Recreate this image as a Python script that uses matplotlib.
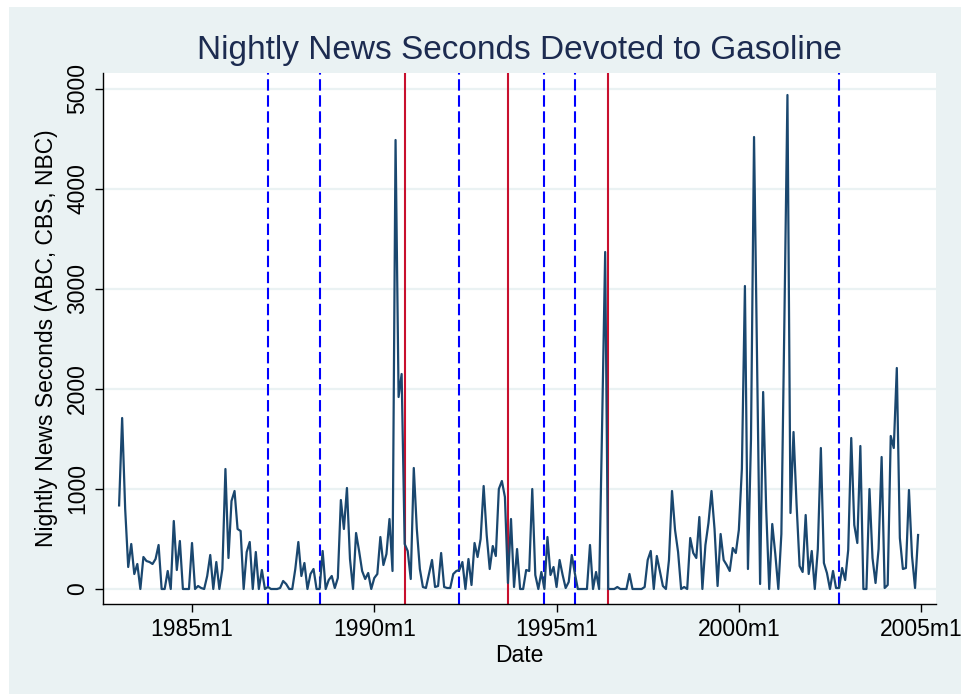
import matplotlib
matplotlib.use("Agg")
import matplotlib.pyplot as plt
from matplotlib.patches import Rectangle
import pandas as pd

plt.rcParams['font.family'] = ['Liberation Sans', 'DejaVu Sans']

# monthly seconds of nightly news coverage, 1983m1 .. 2004m12
seconds = [
    836, 1710, 800, 220, 450, 150, 250, 0, 320, 280, 270, 250,      # 1983
    300, 440, 0, 0, 180, 0, 680, 190, 480, 0, 0, 0,                 # 1984
    460, 0, 30, 10, 0, 130, 340, 0, 270, 0, 200, 1200,              # 1985
    310, 880, 980, 600, 580, 0, 370, 470, 0, 370, 0, 190,           # 1986
    0, 20, 0, 0, 0, 10, 80, 50, 0, 0, 200, 470,                     # 1987
    130, 260, 0, 150, 200, 0, 0, 380, 0, 90, 130, 10,               # 1988
    110, 890, 600, 1010, 300, 0, 560, 380, 180, 100, 160, 0,        # 1989
    110, 150, 520, 240, 350, 700, 180, 4490, 1920, 2150, 450, 380,  # 1990
    100, 1210, 600, 200, 20, 10, 150, 290, 20, 30, 360, 20,         # 1991
    10, 10, 150, 180, 190, 270, 0, 300, 40, 460, 320, 500,          # 1992
    1030, 540, 200, 430, 330, 1000, 1080, 920, 60, 700, 20, 400,    # 1993
    0, 0, 190, 180, 1000, 140, 0, 170, 0, 520, 140, 220,            # 1994
    20, 290, 140, 10, 70, 340, 160, 0, 0, 0, 0, 440,                # 1995
    0, 170, 0, 1650, 3370, 0, 0, 0, 20, 0, 0, 0,                    # 1996
    150, 0, 0, 0, 0, 20, 290, 380, 0, 330, 180, 30,                 # 1997
    0, 290, 980, 590, 370, 0, 20, 0, 510, 360, 310, 720,            # 1998
    0, 440, 660, 980, 600, 30, 550, 290, 240, 180, 410, 360,        # 1999
    590, 1200, 3030, 200, 1500, 4520, 2300, 50, 1970, 800, 0, 650,  # 2000
    350, 0, 550, 2700, 4940, 760, 1570, 850, 230, 170, 740, 150,    # 2001
    380, 0, 400, 1410, 260, 160, 0, 180, 10, 10, 210, 90,           # 2002
    390, 1510, 640, 460, 1430, 0, 0, 1000, 310, 60, 400, 1320,      # 2003
    10, 40, 1530, 1410, 2210, 510, 200, 210, 990, 330, 10, 540,     # 2004
]
dates = pd.period_range('1983-01', '2004-12', freq='M')

tick_labels = ['1985m1', '1990m1', '1995m1', '2000m1', '2005m1']
dashed_events = ['1987m2', '1988m7', '1992m5', '1994m9', '1995m7', '2002m10']
solid_events = ['1990m11', '1993m9', '1996m6']
y_ticks = [0, 1000, 2000, 3000, 4000, 5000]


def stata_month(s):
    # Stata %tm: months since 1960m1
    y, m = s.split('m')
    return (int(y) - 1960) * 12 + int(m) - 1


x = (dates.year - 1960) * 12 + dates.month - 1

fig = plt.figure(figsize=(9.62, 6.94), dpi=100, facecolor='white')
fig.patches.append(Rectangle((9 / 962, 0), 1, 687 / 694, transform=fig.transFigure,
                             facecolor='#eaf2f3', edgecolor='none', zorder=-10))
ax = fig.add_axes([103 / 962, 90 / 694, 833 / 962, 531 / 694])
ax.set_facecolor('white')

for s in dashed_events:
    ax.axvline(stata_month(s), color='#0000ff', lw=1.5, dashes=(5.5, 2.2), zorder=1.5)
for s in solid_events:
    ax.axvline(stata_month(s), color='#c8102e', lw=1.5, zorder=1.5)

ax.plot(x, seconds, color='#1a476f', lw=1.6, zorder=3)

ax.set_xlim(270.7, 544.9)
ax.set_ylim(-150, 5160)
ax.set_xticks([stata_month(t) for t in tick_labels])
ax.set_xticklabels(tick_labels)
ax.set_yticks(y_ticks)
ax.set_yticklabels([str(v) for v in y_ticks], rotation=90, va='center')
ax.grid(axis='y', color='#eaf2f3', lw=1.6, zorder=0)
ax.set_axisbelow(True)

for side in ['top', 'right']:
    ax.spines[side].set_visible(False)
for side in ['left', 'bottom']:
    ax.spines[side].set_color('black')
    ax.spines[side].set_linewidth(1.0)
ax.tick_params(axis='both', length=6, width=1.0, labelsize=16.5, pad=4)

ax.set_xlabel('Date', fontsize=16.5, labelpad=2)
ax.set_ylabel('Nightly News Seconds (ABC, CBS, NBC)', fontsize=16.5, labelpad=6)
ax.set_title('Nightly News Seconds Devoted to Gasoline', fontsize=24,
             color='#1c2b50', pad=10)

fig.savefig('out.png', dpi=100, facecolor=fig.get_facecolor())
